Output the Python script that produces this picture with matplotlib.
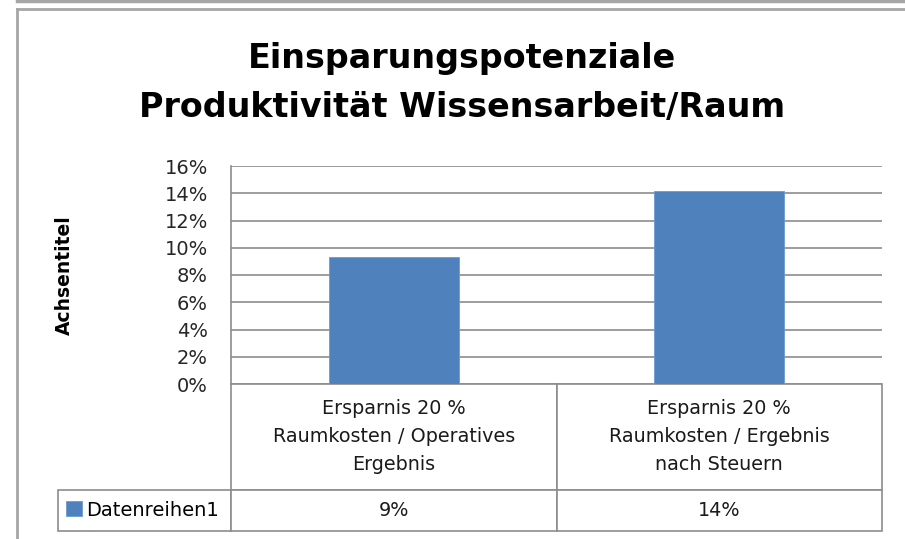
import matplotlib
matplotlib.use("Agg")
import matplotlib.pyplot as plt
from matplotlib.lines import Line2D

plt.rcParams['font.family'] = ['DejaVu Sans']

# data
title_lines = ["Einsparungspotenziale", "Produktivität Wissensarbeit/Raum"]
categories = ["Ersparnis 20 %\nRaumkosten / Operatives\nErgebnis",
              "Ersparnis 20 %\nRaumkosten / Ergebnis\nnach Steuern"]
series_name = "Datenreihen1"
values = [0.093, 0.142]
yticks = [0, 0.02, 0.04, 0.06, 0.08, 0.10, 0.12, 0.14, 0.16]
ylabel = "Achsentitel"

W, H = 905, 539
fig = plt.figure(figsize=(W / 100, H / 100), dpi=100)

# outer chart frame (only top + left visible in the crop)
frame = '#a6a6a6'
fig.add_artist(Line2D([17 / W, 17 / W], [0, 1 - 9 / H], transform=fig.transFigure, color=frame, lw=2))
fig.add_artist(Line2D([17 / W, 1], [1 - 9 / H, 1 - 9 / H], transform=fig.transFigure, color=frame, lw=2))
fig.add_artist(Line2D([17 / W, 903 / W], [1 - 1 / H, 1 - 1 / H], transform=fig.transFigure, color=frame, lw=2.5))

ax_l, ax_r, ax_t, ax_b = 231, 882, 166, 384
ax = fig.add_axes([ax_l / W, 1 - ax_b / H, (ax_r - ax_l) / W, (ax_b - ax_t) / H])

x = range(len(categories))
bars = ax.bar(x, values, width=0.4, color='#4f81bd', edgecolor='#6f9ad0', linewidth=0.6,
              zorder=3, label=series_name)
ax.set_xlim(-0.5, len(categories) - 0.5)
ax.set_ylim(0, 0.16)
ax.set_yticks(yticks)
ax.set_yticklabels([f"{t:.0%}" for t in yticks], fontsize=14, color='#262626')
ax.set_xticks([])
ax.tick_params(axis='y', length=0, pad=16.5)
ax.yaxis.grid(True, color='#8c8c8c', linewidth=1.2, zorder=0)
for s in ['top', 'right', 'bottom']:
    ax.spines[s].set_visible(False)
ax.spines['left'].set_color('#8c8c8c')
ax.spines['left'].set_linewidth(1.2)

ax.set_ylabel(ylabel, fontsize=13.5, fontweight='bold', labelpad=0)
ax.yaxis.set_label_coords((74 - ax_l) / (ax_r - ax_l), 0.5)

for line, base in zip(title_lines, [68, 117]):
    fig.text(462 / W, 1 - base / H, line, ha='center', va='baseline', fontsize=24,
             fontweight='bold')

# data table under the axes
ax_w, ax_h = ax_r - ax_l, ax_b - ax_t
tbl_l, tbl_b = 58, 531
cols = [ax_l - tbl_l, ax_w / 2, ax_w / 2]
tbl = ax.table(cellText=[[""] + categories, [""] + [f"{v:.0%}" for v in values]],
               colWidths=[c / sum(cols) for c in cols], cellLoc='center',
               bbox=[(tbl_l - ax_l) / ax_w, -(tbl_b - ax_b) / ax_h,
                     (ax_r - tbl_l) / ax_w, (tbl_b - ax_b) / ax_h])
tbl.auto_set_font_size(False)
tbl.set_fontsize(13.8)
for (r, c), cell in tbl.get_celld().items():
    cell.set_edgecolor('#8c8c8c')
    cell.set_linewidth(1.2)
    cell.set_height(106 if r == 0 else 41)
    cell.get_text().set_linespacing(1.6)
    cell.get_text().set_color('#1a1a1a')
tbl[0, 0].visible_edges = ''

ax.legend(handles=[bars], labels=[series_name], loc='center left',
          bbox_to_anchor=((66 - ax_l) / ax_w, -(510 - ax_b) / ax_h),
          frameon=False, fontsize=14, handlelength=0.8, handleheight=0.8,
          handletextpad=0.25, borderaxespad=0, borderpad=0)

fig.savefig("out.png", dpi=100)
